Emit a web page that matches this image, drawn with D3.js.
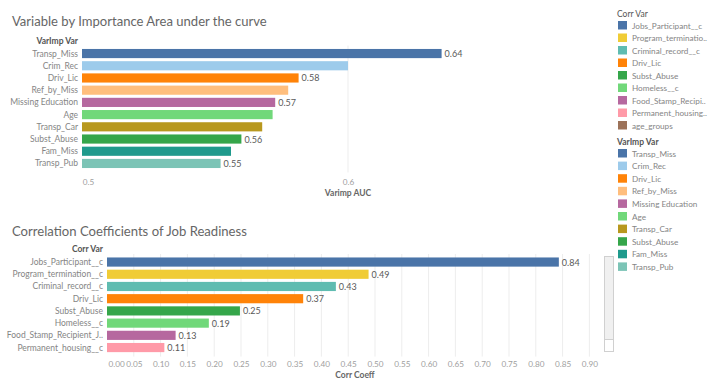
<!DOCTYPE html>
<html>
<head>
<meta charset="utf-8">
<script src="https://cdn.jsdelivr.net/npm/d3@7"></script>
<style>
  body { margin: 0; background: #fff; }
  svg text { font-family: Lato, "Open Sans", sans-serif; }
</style>
</head>
<body>
<div class="fig"></div>
<script>
// top chart: variable importance (AUC)
let impVars = ["Transp_Miss", "Crim_Rec", "Driv_Lic", "Ref_by_Miss", "Missing Education",
               "Age", "Transp_Car", "Subst_Abuse", "Fam_Miss", "Transp_Pub"];
let impAuc = [0.636, 0.600, 0.581, 0.577, 0.572, 0.571, 0.567, 0.559, 0.555, 0.551];
let impShowLabel = [true, false, true, false, true, false, false, true, false, true];
let impColors = ["#4a74a8", "#9dcbeb", "#ff8308", "#ffbe7d", "#b6689f",
                 "#71d87a", "#b8981e", "#35a64a", "#1f9a8c", "#7cc4b6"];
let impTicks = [0.5, 0.6];

// bottom chart: correlation coefficients
let corrVars = ["Jobs_Participant__c", "Program_termination__c", "Criminal_record__c", "Driv_Lic",
                "Subst_Abuse", "Homeless__c", "Food_Stamp_Recipient_J..", "Permanent_housing__c"];
let corrVals = [0.843, 0.488, 0.427, 0.366, 0.248, 0.190, 0.128, 0.107];
let corrColors = ["#4a74a8", "#f0cc36", "#5fbcb1", "#ff8308", "#35a64a", "#71d87a", "#b6689f", "#ff9aa8"];
let corrTicks = d3.range(0, 0.901, 0.05);

// legend for Corr Var (includes age_groups, not in the bars)
let corrLegend = ["Jobs_Participant__c", "Program_termination__c", "Criminal_record__c", "Driv_Lic",
                  "Subst_Abuse", "Homeless__c", "Food_Stamp_Recipient_J", "Permanent_housing__c", "age_groups"];
let corrLegendColors = ["#4a74a8", "#f0cc36", "#5fbcb1", "#ff8308", "#35a64a", "#71d87a", "#b6689f", "#ff9aa8", "#9c7259"];

let W = 710, H = 387;
let svg = d3.select(".fig").append("svg").attr("width", W).attr("height", H);

function truncate(sel, maxW) {
  sel.each(function() {
    let t = d3.select(this), s = t.text();
    if (this.getComputedTextLength() <= maxW) return;
    while (s.length > 1) {
      s = s.slice(0, -1);
      t.text(s + "..");
      if (this.getComputedTextLength() <= maxW) break;
    }
  });
}

// shrink/grow font so the title covers the same width as in the original
function fitWidth(sel, w) {
  sel.each(function() {
    let fs = +d3.select(this).attr("font-size");
    let len = this.getComputedTextLength();
    d3.select(this).attr("font-size", fs * w / len);
  });
}

function barChart(cfg) {
  let g = svg.append("g");
  g.append("text").attr("x", 12).attr("y", cfg.titleY)
    .attr("font-size", 15).attr("fill", "#666").text(cfg.title)
    .call(fitWidth, cfg.titleW);

  let y = d3.scaleBand().domain(cfg.names)
    .range([cfg.top, cfg.top + cfg.step * cfg.names.length]).paddingInner(0.25).paddingOuter(0.12);
  let x = cfg.x;

  // gridlines
  g.selectAll(".grid").data(cfg.gridTicks).enter().append("line")
    .attr("x1", d => x(d)).attr("x2", d => x(d))
    .attr("y1", cfg.top - 2).attr("y2", cfg.top + cfg.step * cfg.names.length + 3)
    .attr("stroke", "#ededed");

  g.append("text").attr("x", cfg.labelX).attr("y", cfg.top - 4)
    .attr("text-anchor", "end").attr("font-size", 8.5).attr("font-weight", "bold")
    .attr("fill", "#555").text(cfg.header);

  g.selectAll(".lab").data(cfg.names).enter().append("text")
    .attr("x", cfg.labelX).attr("y", d => y(d) + y.bandwidth() / 2 + 3)
    .attr("text-anchor", "end").attr("font-size", 8.5).attr("fill", "#858585").text(d => d);

  g.selectAll(".bar").data(cfg.values).enter().append("rect")
    .attr("x", cfg.x0).attr("y", (d, i) => y(cfg.names[i]))
    .attr("width", d => x(d) - cfg.x0).attr("height", y.bandwidth())
    .attr("fill", (d, i) => cfg.colors[i]);

  g.selectAll(".val").data(cfg.values).enter().append("text")
    .filter((d, i) => cfg.show[i])
    .attr("x", d => x(d) + 3)
    .attr("y", (d, i) => y(cfg.names[cfg.values.indexOf(d)]) + y.bandwidth() / 2 + 3.5)
    .attr("font-size", 9).attr("fill", "#595959").text(d => d3.format(".2f")(d));

  let axis = d3.axisBottom(x).tickValues(cfg.ticks).tickFormat(d3.format(cfg.fmt)).tickSize(0);
  let ag = g.append("g").attr("transform", "translate(0," + cfg.axisY + ")").call(axis);
  ag.select(".domain").remove();
  ag.selectAll("text").attr("font-size", 8.2).attr("fill", "#a0a0a0").attr("dy", 0)
    .style("font-family", "Lato, sans-serif");
  if (cfg.firstStart) ag.select(".tick text").attr("text-anchor", "start").attr("x", cfg.x0 - x(0) + 1);

  g.append("text").attr("x", cfg.axisTitleX).attr("y", cfg.axisY + 14)
    .attr("text-anchor", "middle").attr("font-size", 8.5).attr("font-weight", "bold")
    .attr("fill", "#666").text(cfg.axisTitle);
  return y;
}

barChart({
  title: "Variable by Importance Area under the curve", titleY: 26, titleW: 255,
  header: "VarImp Var", names: impVars, values: impAuc, show: impShowLabel, colors: impColors,
  x: d3.scaleLinear().domain([0.5, 0.6]).range([88, 348]), x0: 82,
  top: 47.5, step: 12.2, labelX: 78,
  ticks: impTicks, gridTicks: [0.6], fmt: ".1f", axisY: 182,
  axisTitle: "Varimp AUC", axisTitleX: 348
});

barChart({
  title: "Correlation Coefficients of Job Readiness", titleY: 236, titleW: 235,
  header: "Corr Var", names: corrVars, values: corrVals, show: corrVals.map(() => true), colors: corrColors,
  x: d3.scaleLinear().domain([0, 1]).range([107, 643]), x0: 107,
  top: 256, step: 12.2, labelX: 103,
  ticks: corrTicks, gridTicks: corrTicks.slice(1), fmt: ".2f", axisY: 364, firstStart: true,
  axisTitle: "Corr Coeff", axisTitleX: 355
});

// scrollbar next to the correlation chart
svg.append("rect").attr("x", 604.5).attr("y", 256.5).attr("width", 9).attr("height", 95)
  .attr("fill", "#f0f0f0").attr("stroke", "#d0d0d0");
svg.append("rect").attr("x", 604.5).attr("y", 339.5).attr("width", 9).attr("height", 12)
  .attr("fill", "#fff").attr("stroke", "#d0d0d0");

// legends
function legend(title, names, colors, top, step) {
  let g = svg.append("g");
  g.append("text").attr("x", 617).attr("y", top - 4).attr("font-size", 8.5)
    .attr("fill", "#555").attr("font-weight", title == "VarImp Var" ? "bold" : "normal").text(title);
  let it = g.selectAll(".it").data(names).enter().append("g")
    .attr("transform", (d, i) => "translate(618," + (top + i * step) + ")");
  it.append("rect").attr("width", 9).attr("height", 8.5).attr("fill", (d, i) => colors[i]);
  it.append("text").attr("x", 14).attr("y", 7.5).attr("font-size", 8.2).attr("fill", "#858585")
    .text(d => d).call(truncate, 78);
}
legend("Corr Var", corrLegend, corrLegendColors, 21, 12.5);
legend("VarImp Var", impVars, impColors, 149, 12.6);
</script>
</body>
</html>
